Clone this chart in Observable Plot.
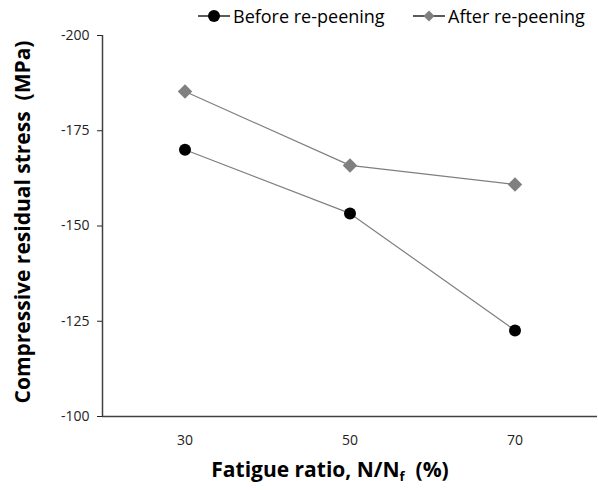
<!DOCTYPE html>
<html><head><meta charset="utf-8">
<script src="https://cdn.jsdelivr.net/npm/d3@7"></script>
<script src="https://cdn.jsdelivr.net/npm/@observablehq/plot@0.6"></script>
<style>
body{margin:0;background:#fff;font-family:"Open Sans",sans-serif;}
#wrap{position:relative;width:598px;height:490px;}
.leg{position:absolute;top:4px;font-size:18px;color:#000;display:flex;align-items:center;white-space:nowrap;}
.ytitle{position:absolute;left:22px;top:222px;transform:translate(-50%,-50%) rotate(-90deg);font-weight:bold;font-size:21px;white-space:pre;}
.xtitle{position:absolute;left:330px;top:470px;transform:translate(-50%,-50%);font-weight:bold;font-size:21px;white-space:pre;}
.xtitle sub{font-size:13px;vertical-align:-4px;}
</style></head>
<body><div id="wrap"></div>
<script>
const ratios = [30, 50, 70];
const before = [-170.0, -153.3, -122.6];
const after = [-185.3, -165.9, -160.9];
const yTicks = [-200, -175, -150, -125, -100];
const seriesNames = ["Before re-peening", "After re-peening"];

const rows = [];
ratios.forEach((r, i) => {
  rows.push({x: r, y: before[i], s: seriesNames[0]});
  rows.push({x: r, y: after[i], s: seriesNames[1]});
});
const bRows = rows.filter(d => d.s === seriesNames[0]);
const aRows = rows.filter(d => d.s === seriesNames[1]);

const plot = Plot.plot({
  width: 598, height: 490,
  marginLeft: 102, marginRight: 1, marginTop: 35, marginBottom: 74,
  style: {fontFamily: "Open Sans, sans-serif", fontSize: "14px", color: "#222"},
  x: {domain: [20, 80], ticks: ratios, tickSize: 0, tickPadding: 19, tickFormat: d => String(d), label: null},
  y: {domain: [-100, -200], ticks: yTicks, tickSize: 5, tickPadding: 8, tickFormat: d => String(d), label: null},
  marks: [
    Plot.ruleY([-100], {stroke: "#404040", strokeWidth: 1.5}),
    Plot.ruleX([20], {stroke: "#404040", strokeWidth: 1.5}),
    Plot.line(bRows, {x: "x", y: "y", stroke: "#7f7f7f", strokeWidth: 1.2}),
    Plot.line(aRows, {x: "x", y: "y", stroke: "#7f7f7f", strokeWidth: 1.2}),
    Plot.dot(bRows, {x: "x", y: "y", r: 6, fill: "#000", stroke: "none"}),
    Plot.dot(aRows, {x: "x", y: "y", r: 6.5, symbol: "diamond2", fill: "#808080", stroke: "none"})
  ]
});
const wrap = document.getElementById("wrap");
wrap.appendChild(plot);
plot.style.position = "absolute"; plot.style.left = "0"; plot.style.top = "0";

function legItem(left, name, marker) {
  const d = document.createElement("div");
  d.className = "leg"; d.style.left = left + "px";
  d.innerHTML = `<svg width="32" height="14" style="margin-right:3px"><line x1="0" y1="7" x2="32" y2="7" stroke="#000" stroke-width="1.3"/>${marker}</svg><span>${name}</span>`;
  wrap.appendChild(d);
}
legItem(198, seriesNames[0], '<circle cx="16" cy="7" r="6" fill="#000"/>');
legItem(413, seriesNames[1], '<path d="M16 1.5 L21.5 7 L16 12.5 L10.5 7 Z" fill="#808080"/>');

const yt = document.createElement("div"); yt.className = "ytitle";
yt.textContent = "Compressive residual stress  (MPa)"; wrap.appendChild(yt);
const xt = document.createElement("div"); xt.className = "xtitle";
xt.innerHTML = "Fatigue ratio, N/N<sub>f</sub>  (%)"; wrap.appendChild(xt);
</script></body></html>
